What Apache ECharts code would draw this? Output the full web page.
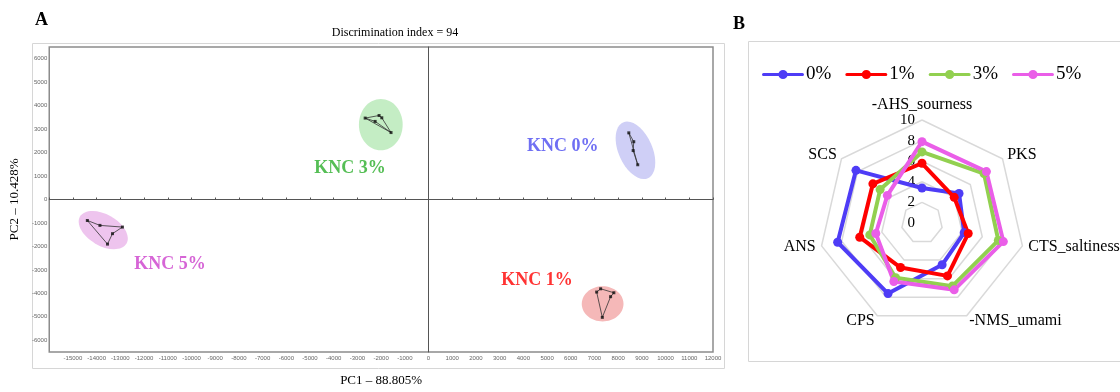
<!DOCTYPE html>
<html><head><meta charset="utf-8">
<script src="https://cdn.jsdelivr.net/npm/echarts@6/dist/echarts.min.js"></script>
<style>html,body{margin:0;padding:0;background:#fff}#c{width:1120px;height:392px}</style>
</head><body><div id="c"></div>
<script>
// ---------- Panel A: PCA scores ----------
const groupNames = ['KNC 0%', 'KNC 1%', 'KNC 3%', 'KNC 5%'];
const pc1_0 = [8448, 8657, 8632, 8825];
const pc2_0 = [2841, 2463, 2086, 1481];
const pc1_1 = [7260, 7092, 7818, 7680, 7331];
const pc2_1 = [-3806, -3945, -3974, -4142, -5023];
const pc1_3 = [-2673, -2086, -2253, -1972, -1582];
const pc2_3 = [3470, 3580, 3328, 3483, 2853];
const pc1_5 = [-14393, -13861, -12913, -13332, -13542];
const pc2_5 = [-894, -1104, -1175, -1456, -1901];
// connection order of the score points in each group
const path_0 = [0, 1, 2, 3, 0];
const path_1 = [1, 0, 2, 3, 4, 1];
const path_3 = [0, 1, 3, 4, 2, 0, 4];
const path_5 = [0, 1, 2, 3, 4, 0];
// group ellipses (centre, semi-axes in PC units, tilt in degrees)
const ellPC1 = [8729, 7344, -2014, -13722];
const ellPC2 = [2098, -4448, 3189, -1301];
const ellA = [713, 881, 923, 1133];
const ellB = [1300, 755, 1091, 671];
const ellTilt = [24, 0, 0, -30];
// group label anchors (PC units)
const labPC1 = [5665, 4574, -3315, -10911];
const labPC2 = [2266, -3441, 1343, -2770];
const xTicksMin = -16000, xTicksMax = 12000;
const yTicksMin = -6500, yTicksMax = 6500;

// ---------- Panel B: radar ----------
const attributes = ['-AHS_sourness', 'PKS', 'CTS_saltiness', '-NMS_umami', 'CPS', 'ANS', 'SCS']; // clockwise from top
const levels = ['0%', '1%', '3%', '5%'];
const v0 = [3.4, 4.6, 4.2, 4.5, 7.6, 8.4, 8.2];
const v1 = [5.8, 4.0, 4.6, 5.7, 4.8, 6.2, 6.1];
const v3 = [6.9, 7.7, 7.6, 6.8, 5.9, 5.2, 5.2];
const v5 = [7.9, 8.0, 8.1, 7.2, 6.3, 4.6, 4.3];

const ellColors = ['#cfcff6', '#f5b8b8', '#c4edc4', '#eec4ee'];
const labColors = ['#4b4bf0', '#ff0000', '#2aae2a', '#cc3fcc'];
const radarColors = ['#4e3cf6', '#ff0000', '#92d050', '#ea5ee8'];

const serif = 'Liberation Serif';
// ECharts radar lays indicators counter-clockwise: reorder
const ccw = [0, 6, 5, 4, 3, 2, 1];
const reorder = arr => ccw.map(i => arr[i]);

const pts = [[pc1_0, pc2_0, path_0], [pc1_1, pc2_1, path_1], [pc1_3, pc2_3, path_3], [pc1_5, pc2_5, path_5]];

const series = [];
series.push({
  type: 'custom', xAxisIndex: 0, yAxisIndex: 0, silent: true, z: 1,
  data: ellPC1.map((x, i) => [x, ellPC2[i], ellA[i], ellB[i], ellTilt[i]]),
  renderItem: function (params, api) {
    const c = api.coord([api.value(0), api.value(1)]);
    const sa = api.size([api.value(2), 0])[0];
    const sb = api.size([0, api.value(3)])[1];
    return {
      type: 'ellipse', x: c[0], y: c[1], rotation: api.value(4) * Math.PI / 180,
      shape: { cx: 0, cy: 0, rx: sa, ry: sb },
      style: { fill: ellColors[params.dataIndex] }
    };
  }
});
pts.forEach(([xs, ys, p]) => {
  series.push({
    type: 'line', xAxisIndex: 0, yAxisIndex: 0, silent: true, z: 2,
    symbol: 'none', lineStyle: { color: '#333', width: 0.8 },
    data: p.map(i => [xs[i], ys[i]])
  });
  series.push({
    type: 'scatter', xAxisIndex: 0, yAxisIndex: 0, silent: true, z: 3,
    symbol: 'rect', symbolSize: 3, itemStyle: { color: '#111' },
    data: xs.map((x, i) => [x, ys[i]])
  });
});
series.push({
  type: 'scatter', xAxisIndex: 0, yAxisIndex: 0, silent: true, z: 4,
  symbolSize: 0,
  data: groupNames.map((n, i) => ({
    name: n, value: [labPC1[i], labPC2[i]],
    label: { show: true, position: 'inside', formatter: n, color: labColors[i],
      fontFamily: serif, fontWeight: 'bold', fontSize: 18 }
  }))
});
series.push({
  type: 'radar', radarIndex: 0, silent: true, z: 5,
  symbol: 'circle', symbolSize: 9,
  data: [v0, v1, v3, v5].map((v, i) => ({
    name: levels[i], value: reorder(v),
    lineStyle: { color: radarColors[i], width: 4 },
    itemStyle: { color: radarColors[i] }
  }))
});

const option = {
  backgroundColor: '#fff',
  animation: false,
  graphic: [
    { type: 'rect', z: -10, shape: { x: 32.5, y: 43.5, width: 692, height: 325 }, style: { fill: 'none', stroke: '#d6d6d6', lineWidth: 1 } },
    { type: 'rect', z: -10, shape: { x: 748.5, y: 41.5, width: 390, height: 320 }, style: { fill: 'none', stroke: '#d6d6d6', lineWidth: 1 } },
    { type: 'text', x: 35, y: 11, style: { text: 'A', font: 'bold 18px "Liberation Serif"', fill: '#000' } },
    { type: 'text', x: 733, y: 15, style: { text: 'B', font: 'bold 18px "Liberation Serif"', fill: '#000' } },
    { type: 'text', x: 395, y: 27, style: { text: 'Discrimination index = 94', font: '12px "Liberation Serif"', fill: '#000', align: 'center' } }
  ],
  grid: { left: 46, right: 407, top: 47, bottom: 35, show: true, borderColor: '#8c8c8c', borderWidth: 1.5, backgroundColor: 'transparent' },
  xAxis: [
    { type: 'value', gridIndex: 0, min: xTicksMin, max: xTicksMax, interval: 1000, position: 'bottom',
      axisLine: { show: false, onZero: false }, axisTick: { show: false }, splitLine: { show: false },
      axisLabel: { fontSize: 6, color: '#666', margin: 3, showMinLabel: false, fontFamily: 'Liberation Sans', formatter: v => String(v) },
      name: 'PC1 – 88.805%', nameLocation: 'middle', nameGap: 22,
      nameTextStyle: { fontFamily: serif, fontSize: 13, color: '#000' } },
    { type: 'value', gridIndex: 0, min: xTicksMin, max: xTicksMax, interval: 1000, position: 'top',
      axisLine: { onZero: true, lineStyle: { color: '#555', width: 1 } },
      axisTick: { show: true, length: 2, inside: false, lineStyle: { color: '#555' } },
      axisLabel: { show: false }, splitLine: { show: false } }
  ],
  yAxis: [
    { type: 'value', gridIndex: 0, min: yTicksMin, max: yTicksMax, interval: 500, position: 'left',
      axisLine: { show: false, onZero: false }, axisTick: { show: false }, splitLine: { show: false },
      axisLabel: { fontSize: 6, color: '#666', margin: 2, fontFamily: 'Liberation Sans', formatter: v => (v % 1000 === 0 ? String(v) : '') },
      name: 'PC2 – 10.428%', nameLocation: 'middle', nameGap: 28,
      nameTextStyle: { fontFamily: serif, fontSize: 13, color: '#000' } },
    { type: 'value', gridIndex: 0, min: yTicksMin, max: yTicksMax, interval: 500, position: 'right',
      axisLine: { onZero: true, lineStyle: { color: '#555', width: 1 } },
      axisTick: { show: false }, axisLabel: { show: false }, splitLine: { show: false } }
  ],
  legend: {
    data: levels, left: 757, top: 60, itemWidth: 42, itemHeight: 10, itemGap: 14,
    icon: 'path://M2,3.5L40,3.5A1.5,1.5,0,0,1,40,6.5L2,6.5A1.5,1.5,0,0,1,2,3.5Z M21,0.5A4.5,4.5,0,1,1,21,9.5A4.5,4.5,0,1,1,21,0.5Z',
    textStyle: { fontFamily: serif, fontSize: 19, color: '#000', padding: [0, 0, 0, -3] }
  },
  radar: {
    center: [922, 223], radius: 103, startAngle: 90, splitNumber: 5, shape: 'polygon',
    indicator: ccw.map((i, k) => ({ name: attributes[i], min: 0, max: 10, axisLabel: { show: k === 0 } })),
    axisName: { color: '#000', fontFamily: serif, fontSize: 16 },
    nameGap: 6,
    splitLine: { lineStyle: { color: '#d9d9d9', width: 1.5 } },
    splitArea: { show: false },
    axisLine: { show: false },
    axisTick: { show: false },
    axisLabel: { show: true, color: '#000', fontFamily: serif, fontSize: 15, margin: 7, showMinLabel: true, showMaxLabel: true }
  },
  series: series
};
const chart = echarts.init(document.getElementById('c'));
chart.setOption(option);
</script>
</body></html>
